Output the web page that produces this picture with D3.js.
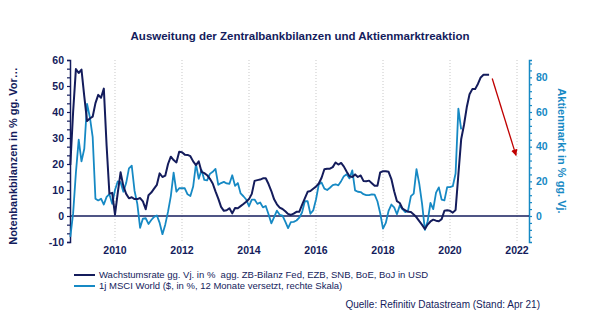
<!DOCTYPE html>
<meta charset="utf-8">
<style>
  body { margin: 0; background: #fff; }
  svg { display: block; font-family: "Liberation Sans", Arial, sans-serif; }
  .grid line { stroke: #c8c8c8; stroke-dasharray: 1,2; }
</style>
<body>
<script src="https://cdn.jsdelivr.net/npm/d3@7/dist/d3.min.js"></script>
<script>
// monthly data, first month Sep 2008
const startYear = 2008;
const startMonth = 8; // 0-based -> September

// Wachstumsrate agg. ZB-Bilanz (left scale, %)
const balanceGrowth = [
  19.6, 40, 56.5, 55, 56.3, 46, 36.5, 37.5, 38.2, 43.4, 46.6, 45.5,
  49, 27, 8.6, 8.9, 0.5, 9, 16.8, 11.5, 8.5, 6.8, 7.2, 6.5,
  6.5, 6.9, 5.6, 2.6, 8, 9, 10.5, 12, 16.4, 15, 15.5, 20,
  22.8, 21.5, 20.6, 24.7, 24.5, 23.6, 23.5, 23, 21, 19.6, 21, 17,
  16.5, 15.7, 14.3, 12.5, 9.5, 6.7, 3.5, 2, 2.2, 3, 1, 3.1,
  3, 3.8, 4.6, 5.5, 6.5, 8.5, 13.5, 13.8, 14, 14.5, 14.5, 12.3,
  9.6, 6.4, 4.5, 3.2, 2.7, 1.8, 0.8, 0.4, 0.9, 1.6, 1.6, 4.3,
  6.8, 9.3, 9.6, 10.5, 11.3, 12.5, 14.7, 18, 18.2, 18.2, 18.8, 20.6,
  19.8, 20.4, 19, 17, 15.3, 15, 16, 15, 15.6, 13.5, 13.4, 13.6,
  12.6, 11.6, 11.6, 16.8, 17.2, 17.2, 17, 14.2, 9.5, 5.7, 5, 2.8,
  2.2, 1.6, 1.5, 0.6, -0.5, -2, -3.4, -5, -3.3, -2.1, -1.4, -1.8,
  -2, -1.2, 2, 2.2, 2, 1.3, 2.3, 16, 29.5, 35, 41.8, 46.8,
  48.8, 48.8, 50.8, 53.3, 54.3, 54.3, 54.3
];

// 1j MSCI World, 12 Monate versetzt (right scale, %)
const msciWorld = [
  -12, 1.5, 25, 44, 31.5, 38.8, 64.7, 57, 45.7, 10, 9, 10,
  6.6, 11, 12.6, 7, 15, 20, 19.5, 14, 19, 27.5, 29, 14.6,
  7, -6.8, -1.5, -1.3, -4.6, -2.3, -0.5, 0.3, -4, -10.5, -5, 2.5,
  11.5, 25, 14, 16, 16.1, 16, 12.5, 11.5, 17, 30, 21.5, 26.5,
  20.8, 20.6, 24.3, 25.5, 27.2, 18, 19, 19.7, 18.8, 18.6, 23.5, 17.4,
  19, 13, 11.4, 9.5, 5.7, 9.5, 9.5, 7, 7.8, 5, 5.8, 1,
  -4.2, -0.6, 3.1, 0.7, 0.2, -3.2, -7, -3.5, -3.4, -2.6, -1, 2,
  8.5, 8.5, 1.3, 3.2, 9.5, 18.2, 19.3, 15.8, 15, 16.3, 17.8, 18.3,
  17.7, 20.1, 23, 24.1, 21.7, 26.3, 14.8, 14, 13.8, 12.6, 12.1, 12.1,
  12.5, 12.3, 8.5, 1.6, -7.3, -4, 3, 6.6, 5, 1, 6, 4,
  2.2, 3.3, 11.5, 12.9, 27, 18.5, 7, -8, -3, 7.5, 4, 13.5,
  16.5, 9.5, 9, 16.7, 16.7, 17.2, 24.5, 62, 50
];

const yearTicks = [2010, 2012, 2014, 2016, 2018, 2020, 2022];
const leftTicks = [-10, 0, 10, 20, 30, 40, 50, 60];
const rightTicks = [0, 20, 40, 60, 80];

// arrow (year, right-scale value)
const arrowFrom = [2021.26, 79.3];
const arrowTo = [2021.97, 35];

const title = 'Ausweitung der Zentralbankbilanzen und Aktienmarktreaktion';
const leftLabel = 'Notenbankbilanzen in % gg. Vor\u2026';
const rightLabel = 'Aktienmarkt in % gg. Vj.';
const legendItems = [
  'Wachstumsrate gg. Vj. in %  agg. ZB-Bilanz Fed, EZB, SNB, BoE, BoJ in USD',
  '1j MSCI World ($, in %, 12 Monate versetzt, rechte Skala)'
];
const source = 'Quelle: Refinitiv Datastream (Stand: Apr 21)';

const navy = '#141c5c';
const blue = '#1689c4';
const width = 600, height = 324;
const margin = {top: 60, right: 71, bottom: 82, left: 70};

const toYear = i => startYear + (startMonth + i) / 12;

const x = d3.scaleLinear()
  .domain([2008.657, 2022.358])
  .range([margin.left, width - margin.right]);
const yL = d3.scaleLinear()
  .domain([-10, 60])
  .range([height - margin.bottom, margin.top]);
const yR = d3.scaleLinear()
  .domain([-15, 90])
  .range([height - margin.bottom, margin.top]);

const svg = d3.select('body').append('svg')
  .attr('width', width)
  .attr('height', height)
  .style('background', '#fff');

svg.append('text')
  .attr('x', 300).attr('y', 40)
  .attr('text-anchor', 'middle')
  .attr('font-size', 11.5).attr('font-weight', 'bold')
  .attr('fill', navy)
  .text(title);

// vertical dotted grid
svg.append('g').attr('class', 'grid')
  .selectAll('line')
  .data(yearTicks)
  .enter().append('line')
    .attr('x1', d => x(d)).attr('x2', d => x(d))
    .attr('y1', margin.top).attr('y2', height - margin.bottom);

// left axis
const leftMinor = d3.range(-30, 181, 10).map(d => d / 3);
const gL = svg.append('g')
  .attr('transform', `translate(${margin.left},0)`)
  .call(d3.axisLeft(yL).tickValues(leftMinor).tickSize(3).tickFormat(''));
gL.select('.domain').attr('stroke', navy).attr('stroke-width', 1.5);
gL.selectAll('.tick line').attr('stroke', navy).attr('stroke-width', 1.2);
gL.selectAll('.tickLabel')
  .data(leftTicks)
  .enter().append('text')
    .attr('x', -6).attr('y', d => yL(d))
    .attr('dy', '0.35em')
    .attr('text-anchor', 'end')
    .attr('font-size', 10.5).attr('font-weight', 'bold')
    .attr('fill', navy)
    .text(d => d);

// right axis
const rightMinor = d3.range(-12, 89, 4);
const gR = svg.append('g')
  .attr('transform', `translate(${width - margin.right},0)`)
  .call(d3.axisRight(yR).tickValues(rightMinor).tickSize(3).tickFormat(''));
gR.select('.domain').attr('stroke', blue).attr('stroke-width', 1.5);
gR.selectAll('.tick line').attr('stroke', blue).attr('stroke-width', 1.2);
gR.selectAll('.tickLabel')
  .data(rightTicks)
  .enter().append('text')
    .attr('x', 7).attr('y', d => yR(d))
    .attr('dy', '0.35em')
    .attr('font-size', 10.5).attr('font-weight', 'bold')
    .attr('fill', blue)
    .text(d => d);

// x labels (no axis line)
svg.append('g')
  .selectAll('text')
  .data(yearTicks)
  .enter().append('text')
    .attr('x', d => x(d)).attr('y', height - margin.bottom + 12)
    .attr('text-anchor', 'middle')
    .attr('font-size', 10.5).attr('font-weight', 'bold')
    .attr('fill', navy)
    .text(d => d);

// axis titles
svg.append('text')
  .attr('transform', `translate(17,${(margin.top + height - margin.bottom) / 2 + 5}) rotate(-90)`)
  .attr('text-anchor', 'middle')
  .attr('font-size', 11).attr('font-weight', 'bold')
  .attr('fill', navy)
  .text(leftLabel);
svg.append('text')
  .attr('transform', `translate(558,${(margin.top + height - margin.bottom) / 2}) rotate(90)`)
  .attr('text-anchor', 'middle')
  .attr('font-size', 11).attr('font-weight', 'bold')
  .attr('fill', blue)
  .text(rightLabel);

// zero line
svg.append('line')
  .attr('x1', margin.left).attr('x2', width - margin.right)
  .attr('y1', yL(0)).attr('y2', yL(0))
  .attr('stroke', navy).attr('stroke-width', 1.3);

const lineL = d3.line().x((d, i) => x(toYear(i))).y(d => yL(d));
const lineR = d3.line().x((d, i) => x(toYear(i))).y(d => yR(d));

svg.append('path')
  .datum(msciWorld)
  .attr('fill', 'none')
  .attr('stroke', blue)
  .attr('stroke-width', 1.8)
  .attr('stroke-linejoin', 'round')
  .attr('d', lineR);

svg.append('path')
  .datum(balanceGrowth)
  .attr('fill', 'none')
  .attr('stroke', navy)
  .attr('stroke-width', 2)
  .attr('stroke-linejoin', 'round')
  .attr('d', lineL);

// red arrow
svg.append('defs').append('marker')
  .attr('id', 'arrow')
  .attr('viewBox', '0 0 10 10')
  .attr('refX', 9).attr('refY', 5)
  .attr('markerWidth', 5).attr('markerHeight', 5)
  .attr('orient', 'auto')
  .append('path')
    .attr('d', 'M0,0 L10,5 L0,10 z')
    .attr('fill', '#c00000');
svg.append('line')
  .attr('x1', x(arrowFrom[0])).attr('y1', yR(arrowFrom[1]))
  .attr('x2', x(arrowTo[0])).attr('y2', yR(arrowTo[1]))
  .attr('stroke', '#c00000').attr('stroke-width', 1.3)
  .attr('marker-end', 'url(#arrow)');

// legend
const legend = svg.append('g')
  .selectAll('g')
  .data(legendItems)
  .enter().append('g')
    .attr('transform', (d, i) => `translate(74,${275 + i * 11})`);
legend.append('line')
  .attr('x1', 0).attr('x2', 21)
  .attr('stroke', (d, i) => i === 0 ? navy : blue)
  .attr('stroke-width', 2);
legend.append('text')
  .attr('x', 25).attr('dy', '0.35em')
  .attr('font-size', 9.5)
  .attr('fill', navy)
  .style('white-space', 'pre')
  .text(d => d);

svg.append('text')
  .attr('x', 540).attr('y', 308)
  .attr('text-anchor', 'end')
  .attr('font-size', 10)
  .attr('fill', navy)
  .text(source);
</script>
</body>
</html>
